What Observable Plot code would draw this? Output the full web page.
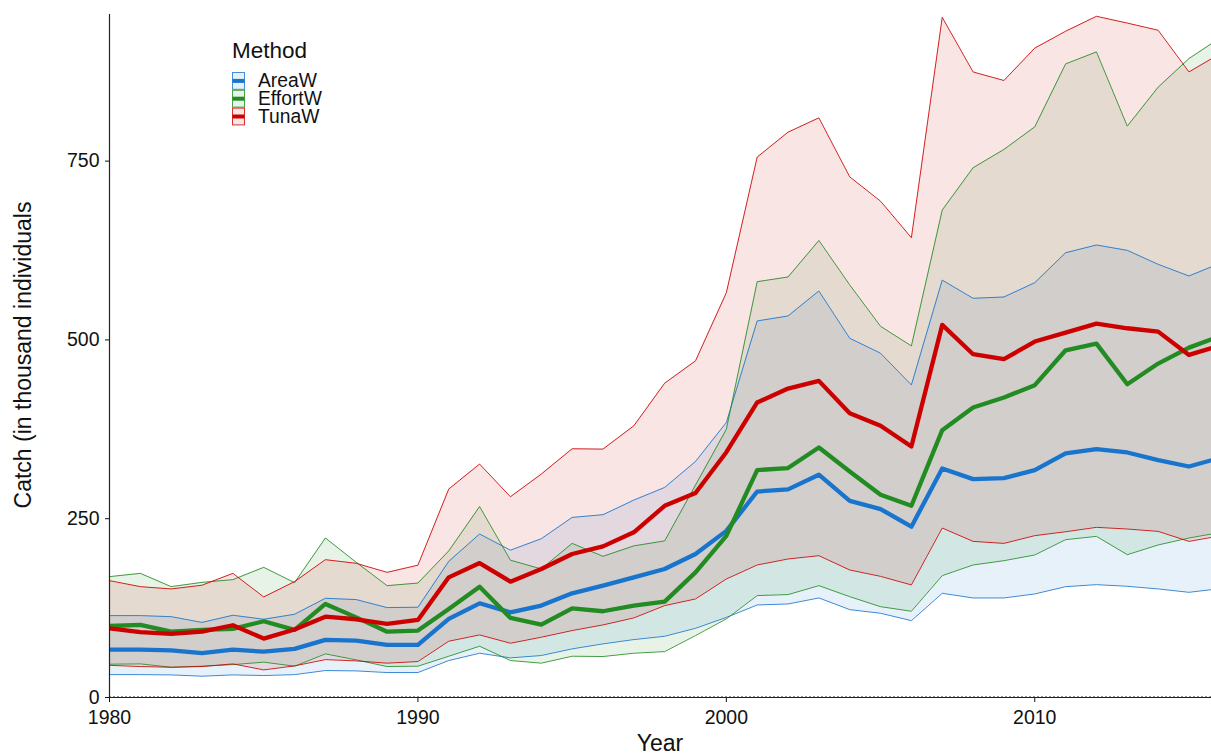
<!DOCTYPE html>
<html><head><meta charset="utf-8">
<script src="https://cdn.jsdelivr.net/npm/d3@7"></script>
<script src="https://cdn.jsdelivr.net/npm/@observablehq/plot@0.6"></script>
<style>
body{margin:0;background:#fff;font-family:"Liberation Sans",Arial,Helvetica,sans-serif;}
#wrap{position:relative;width:1211px;height:755px;overflow:hidden;}
.t{position:absolute;white-space:nowrap;color:#111;line-height:1;}
</style></head><body><div id="wrap"></div>
<script>
const years = [1980,1981,1982,1983,1984,1985,1986,1987,1988,1989,1990,1991,1992,1993,1994,1995,1996,1997,1998,1999,2000,2001,2002,2003,2004,2005,2006,2007,2008,2009,2010,2011,2012,2013,2014,2015,2016];
const methods = ["AreaW","EffortW","TunaW"];
const colors = ["#1874CD","#228B22","#CD0000"];
const xTicks = [1980,1990,2000,2010];
const yTicks = [0,250,500,750];

const areaMid = [67,67,66,62,67,64,68,80.5,79.6,73.6,73.6,110,131.7,119,128.5,145.7,156.4,168,179.7,200.7,233,288,291,311.5,275,263.5,238.8,320.3,305.3,306.8,318,341.2,347.3,342.6,332,323,335];
const areaHi = [114.5,114.5,113,105,115,109.4,116.4,138.7,136.9,125.7,126.2,190.4,228.6,206,222,251.8,255.6,276,293.7,330,384.5,526.5,533.5,568.4,502.3,481.4,437,583.6,558.2,560,580,621.9,632.7,625.2,605.7,589.4,607];
const areaLo = [32,32,31.6,29.8,31.6,30.7,32,37.7,37.2,34.9,34.9,51.7,61.9,55.4,58.7,68,75,81,85.6,96.8,112,129.4,130.8,139.2,122.9,117.8,107.5,145.7,139.2,139.2,144.8,155,157.8,155.5,151.8,147.1,152.2];

const effortMid = [100,101.5,92,94.5,96,106.6,94.5,130.8,112,92,93.6,123.8,155,111.3,102,124.7,120.6,128.5,134,175,226,318,320.8,349.6,316,283.5,268.2,373.8,405.4,419.4,436.7,485.5,494.8,438,466.9,489.2,505];
const effortHi = [169,173.6,155,161,164.8,182,160.6,223,189,156.4,160,205,267,192,179.7,215.5,197.4,212,219,297,375,581.4,588,639,577,519,491.6,681.6,740.7,766.3,797.9,885.9,902.7,798.9,853.4,893.4,922];
const effortLo = [46.6,47,42.3,43.8,46,49.4,43.8,61,52.6,43.3,43.8,57.7,71.7,51.7,48,57.7,57.3,61.9,64.2,86.6,110,142.5,143.9,156.4,141,127,120.6,170.4,185.3,191.3,199.3,220.7,225.3,199.7,213.3,223,230.7];

const tunaMid = [96.8,91.3,89,92,101,82.4,95,113,109.4,102.9,108.5,168,188,162,179.7,200.7,211.3,231,268,285.9,343,412.5,432,442.7,397.6,379.9,351,521,480,473,497.7,510.2,522.8,516.3,511.6,479,492];
const tunaHi = [163.4,155,151.8,157,173.6,140.6,162,192.7,187.6,175,185,291.5,326.4,280.7,312.4,347.8,347.3,379.9,439.5,470.7,566,755.6,790.5,810.5,728,694,642.9,951,874.7,862.7,908,931.6,952.5,943,933,874.7,900];
const tunaLo = [45,43.3,42.3,43.3,47,38.6,44.2,53,51.2,48,50.3,78.7,87.5,75.9,84.3,93.6,101.5,111.3,128.5,137.8,165.7,185.3,193.7,198.3,178.3,169.4,157.4,237,218.3,215.5,226.3,231.8,237.9,235.6,232.3,218.3,226];

const series = [
  [areaMid, areaLo, areaHi],
  [effortMid, effortLo, effortHi],
  [tunaMid, tunaLo, tunaHi]
];
const rows = [];
methods.forEach((m, i) => {
  years.forEach((yr, j) => {
    rows.push({year: yr, method: m, mid: series[i][0][j], lo: series[i][1][j], hi: series[i][2][j]});
  });
});

const font = '"Liberation Sans", Arial, Helvetica, sans-serif';
const chart = Plot.plot({
  width: 1211, height: 755,
  marginLeft: 109, marginRight: 0, marginTop: 14, marginBottom: 58,
  style: {fontSize: "19.5px", fontFamily: font, color: "#111", background: "transparent", overflow: "visible"},
  x: {domain: [1980, 2015.73], ticks: xTicks, tickFormat: d => String(d), tickSize: 5, tickPadding: 8, label: null},
  y: {domain: [0, 955], ticks: yTicks, tickFormat: d => String(d), tickSize: 4, tickPadding: 6, label: null},
  color: {domain: methods, range: colors},
  marks: [
    Plot.areaY(rows, {x: "year", y1: "lo", y2: "hi", z: "method", fill: "method", fillOpacity: 0.1, clip: true}),
    Plot.line(rows, {x: "year", y: "hi", z: "method", stroke: "method", strokeWidth: 1, strokeOpacity: 0.85, clip: true}),
    Plot.line(rows, {x: "year", y: "lo", z: "method", stroke: "method", strokeWidth: 1, strokeOpacity: 0.85, clip: true}),
    Plot.line(rows, {x: "year", y: "mid", z: "method", stroke: "method", strokeWidth: 4.3, strokeLinejoin: "round", clip: true}),
    Plot.ruleY([0], {stroke: "#222", strokeWidth: 1.2}),
    Plot.ruleY([0], {stroke: "#999", strokeWidth: 1, strokeDasharray: "2,2", dy: -1}),
    Plot.ruleX([1980], {stroke: "#222", strokeWidth: 1.2})
  ]
});
const wrap = document.getElementById("wrap");
chart.style.position = "absolute";
chart.style.left = "0px";
chart.style.top = "0px";
wrap.appendChild(chart);

function addText(txt, css) {
  const d = document.createElement("div");
  d.className = "t";
  d.textContent = txt;
  Object.assign(d.style, css);
  wrap.appendChild(d);
  return d;
}
// axis titles
addText("Year", {left: "660px", top: "732px", fontSize: "23px", transform: "translateX(-50%)"});
addText("Catch (in thousand individuals", {left: "23px", top: "355px", fontSize: "23px", transform: "translate(-50%,-50%) rotate(-90deg)"});

// legend
addText("Method", {left: "232px", top: "40px", fontSize: "22.5px"});
const ns = "http://www.w3.org/2000/svg";
const lg = document.createElementNS(ns, "svg");
lg.setAttribute("width", "20");
lg.setAttribute("height", "60");
lg.style.position = "absolute";
lg.style.left = "232px";
lg.style.top = "71.5px";
wrap.appendChild(lg);
const step = 17.8;
methods.forEach((m, i) => {
  const y0 = i * step + 0.5;
  const r = document.createElementNS(ns, "rect");
  r.setAttribute("x", "0.5"); r.setAttribute("y", y0);
  r.setAttribute("width", "12"); r.setAttribute("height", "16.8");
  r.setAttribute("fill", colors[i]); r.setAttribute("fill-opacity", "0.1");
  r.setAttribute("stroke", colors[i]); r.setAttribute("stroke-width", "1"); r.setAttribute("stroke-opacity", "0.8");
  lg.appendChild(r);
  const l = document.createElementNS(ns, "line");
  l.setAttribute("x1", "0.5"); l.setAttribute("x2", "12.5");
  l.setAttribute("y1", y0 + 8.4); l.setAttribute("y2", y0 + 8.4);
  l.setAttribute("stroke", colors[i]); l.setAttribute("stroke-width", "4");
  lg.appendChild(l);
});
// legend labels as one multi-line text block
const lab = document.createElement("div");
lab.className = "t";
Object.assign(lab.style, {left: "258px", top: "72px", fontSize: "19.3px", lineHeight: step + "px"});
methods.forEach((m, i) => {
  if (i) lab.appendChild(document.createElement("br"));
  lab.appendChild(document.createTextNode(m));
});
wrap.appendChild(lab);
</script>
</body></html>
